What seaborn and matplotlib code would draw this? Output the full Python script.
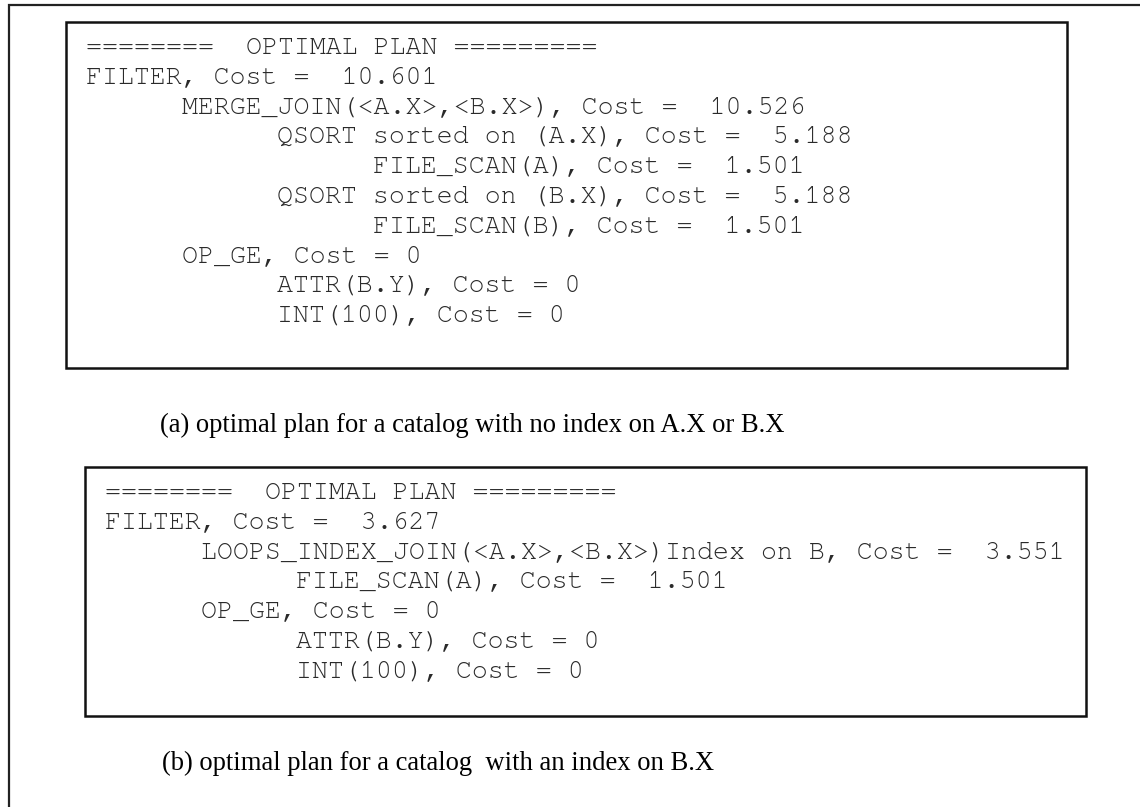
import matplotlib
matplotlib.use("Agg")
import matplotlib.pyplot as plt
from matplotlib.patches import Rectangle
from matplotlib import font_manager
import seaborn as sns

# plan (a): no index on A.X or B.X
plan_a_text = [
    "========  OPTIMAL PLAN =========",
    "FILTER, Cost =  10.601",
    "MERGE_JOIN(<A.X>,<B.X>), Cost =  10.526",
    "QSORT sorted on (A.X), Cost =  5.188",
    "FILE_SCAN(A), Cost =  1.501",
    "QSORT sorted on (B.X), Cost =  5.188",
    "FILE_SCAN(B), Cost =  1.501",
    "OP_GE, Cost = 0",
    "ATTR(B.Y), Cost = 0",
    "INT(100), Cost = 0",
]
plan_a_indent = [0, 0, 6, 12, 18, 12, 18, 6, 12, 12]

# plan (b): index on B.X
plan_b_text = [
    "========  OPTIMAL PLAN =========",
    "FILTER, Cost =  3.627",
    "LOOPS_INDEX_JOIN(<A.X>,<B.X>)Index on B, Cost =  3.551",
    "FILE_SCAN(A), Cost =  1.501",
    "OP_GE, Cost = 0",
    "ATTR(B.Y), Cost = 0",
    "INT(100), Cost = 0",
]
plan_b_indent = [0, 0, 6, 12, 6, 12, 12]

captions = [
    "(a) optimal plan for a catalog with no index on A.X or B.X",
    "(b) optimal plan for a catalog  with an index on B.X",
]

sns.set_theme(style="white")

# prefer a Courier-like face if one happens to be installed
installed = {f.name for f in font_manager.fontManager.ttflist}
mono = [f for f in ["Courier New", "Nimbus Mono PS", "FreeMono", "Liberation Mono"]
        if f in installed] + ["DejaVu Sans Mono"]
serif = [f for f in ["Times New Roman", "Liberation Serif"] if f in installed] + ["DejaVu Serif"]

W, H = 1140, 807
fig = plt.figure(figsize=(W / 100, H / 100), dpi=100)
ax = fig.add_axes([0, 0, 1, 1])
ax.set_xlim(0, W)
ax.set_ylim(H, 0)
ax.axis("off")

char_w = 15.95
row_h = 29.8

# outer frame (only top and left edges visible)
ax.plot([9, 9, W + 5], [H + 5, 5, 5], color="#222222", lw=1.6, solid_joinstyle="miter")


def draw_plan(ax, lines, indents, box, x0, y0):
    bx0, by0, bx1, by1 = box
    ax.add_patch(Rectangle((bx0, by0), bx1 - bx0, by1 - by0, fill=False,
                           edgecolor="#111111", lw=1.8))
    for i, (txt, ind) in enumerate(zip(lines, indents)):
        ax.text(x0 + ind * char_w, y0 + i * row_h, txt, family=mono,
                fontsize=19.2, color="#2a2a2a", va="center", ha="left")


draw_plan(ax, plan_a_text, plan_a_indent, (66, 22, 1067, 368), 86, 48)
draw_plan(ax, plan_b_text, plan_b_indent, (85, 467, 1086, 716), 105, 493)

ax.text(160, 425, captions[0], family=serif, fontsize=19.2, color="black",
        va="center", ha="left")
ax.text(162, 763, captions[1], family=serif, fontsize=19.2, color="black",
        va="center", ha="left")

fig.savefig("out.png", dpi=100, facecolor="white")
